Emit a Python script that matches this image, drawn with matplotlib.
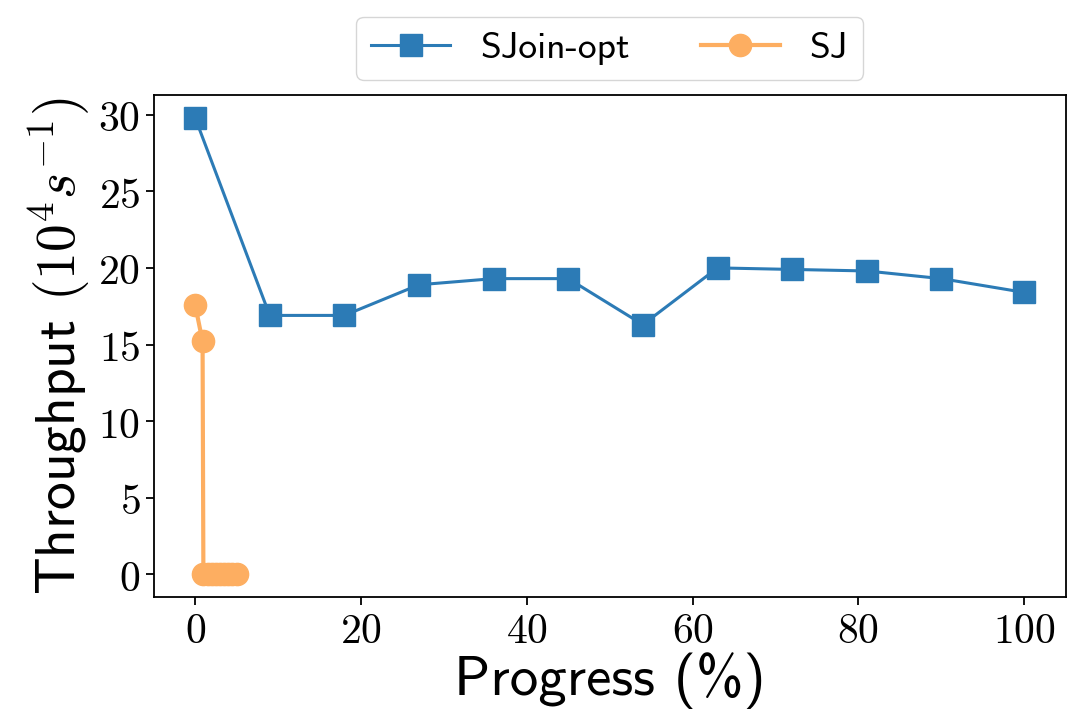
import matplotlib
matplotlib.use("Agg")
import matplotlib.pyplot as plt

plt.rcParams['mathtext.fontset'] = 'cm'
plt.rcParams['axes.formatter.use_mathtext'] = True

# data
sjoin_x = [0, 9, 18, 27, 36, 45, 54, 63, 72, 81, 90, 100]
sjoin_y = [29.8, 16.9, 16.9, 18.9, 19.3, 19.3, 16.3, 20.0, 19.9, 19.8, 19.3, 18.4]
sj_x = [0, 0.9, 1.0, 1.5, 2.0, 2.5, 3.0, 3.5, 4.0, 4.5, 5.0]
sj_y = [17.6, 15.2, 0, 0, 0, 0, 0, 0, 0, 0, 0]
xticks = [0, 20, 40, 60, 80, 100]
yticks = [0, 5, 10, 15, 20, 25, 30]

fig = plt.figure(figsize=(10.82, 7.24), dpi=100)
ax = fig.add_axes([0.142, 0.175, 0.843, 0.694])

ax.plot(sjoin_x, sjoin_y, marker='s', color='#2c7bb6', lw=2.2, ms=16, label='SJoin-opt')
ax.plot(sj_x, sj_y, marker='o', color='#fdae61', lw=3, ms=16, label='SJ')

ax.set_xticks(xticks)
ax.set_yticks(yticks)
ax.set_xticklabels([f'${t}$' for t in xticks])
ax.set_yticklabels([f'${t}$' for t in yticks])
ax.tick_params(labelsize=30, width=1.3, length=6)
for s in ax.spines.values():
    s.set_linewidth(1.3)

ax.set_xlabel('Progress (%)', family='cmss10', fontsize=41, labelpad=0)
ax.set_ylabel(r'Throughput $(10^4s^{-1})$', family='cmss10', fontsize=40, labelpad=4)

leg = ax.legend(loc='lower center', bbox_to_anchor=(0.5, 1.03), ncol=2,
                prop={'family': 'cmss10', 'size': 27}, handlelength=2.1,
                handletextpad=0.8, columnspacing=1.9, borderaxespad=0)

fig.savefig('out.png', dpi=100)
